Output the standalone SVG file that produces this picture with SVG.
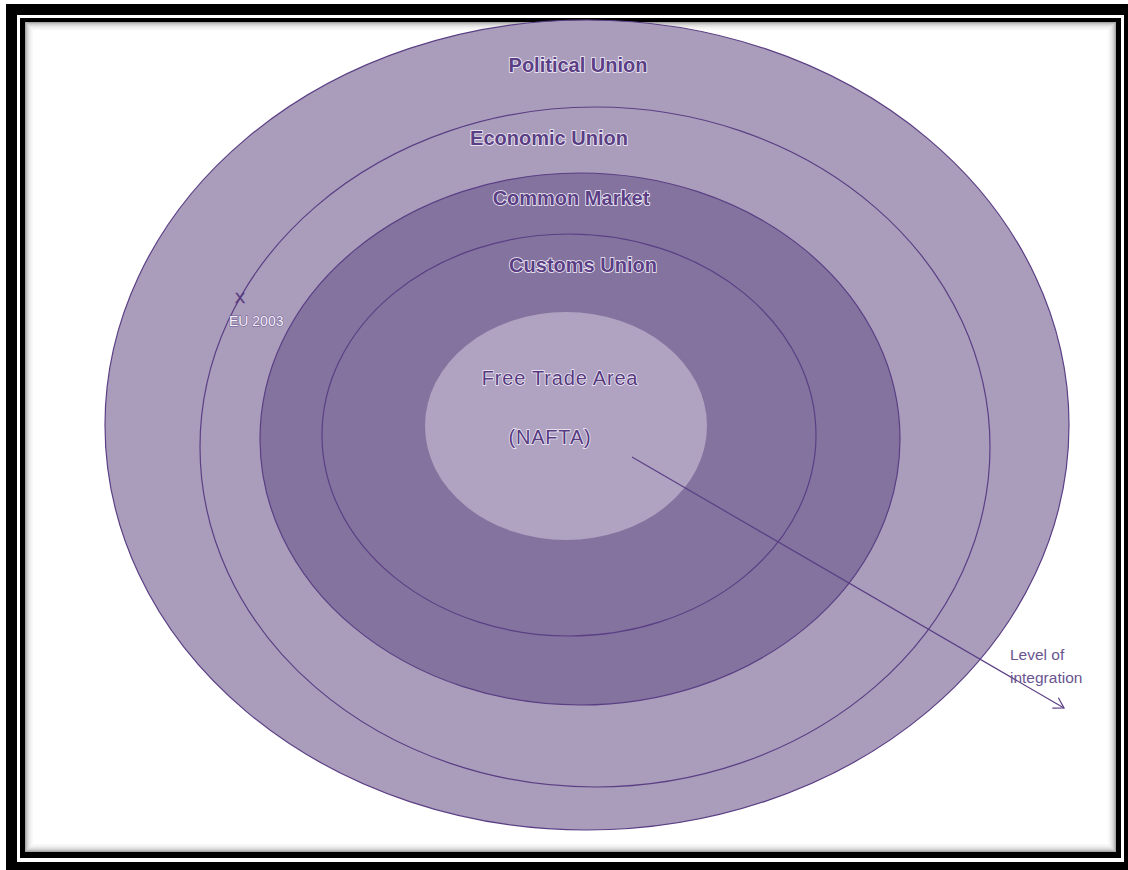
<svg xmlns="http://www.w3.org/2000/svg" width="1128" height="870" viewBox="0 0 1128 870">
<style>
.ring{stroke:#5b3f85;stroke-width:1.2}
.lbl{font-family:"Liberation Sans",Arial,sans-serif;font-weight:bold;font-size:20px;fill:#5b3f85;stroke:#f2eef8;stroke-width:1.6;paint-order:stroke}
.lbl2{font-family:"Liberation Sans",Arial,sans-serif;font-size:20px;letter-spacing:0.8px;fill:#56397f;stroke:#f2eef8;stroke-width:1.4;paint-order:stroke}
.sm{font-family:"Liberation Sans",Arial,sans-serif;font-size:15.5px;fill:#6a5590}
.sh{fill:none;stroke:#000}
</style>
<defs>
<marker id="arr" markerWidth="14" markerHeight="14" refX="12" refY="7" orient="auto" markerUnits="userSpaceOnUse">
<path d="M2,1 L12,7 L2,13" fill="none" stroke="#5b3f85" stroke-width="1.2"/>
</marker>
</defs>
<rect width="1128" height="870" fill="#ffffff"/>
<g id="frame">
<rect x="6" y="4" width="1122" height="866" fill="#000"/>
<rect x="17" y="15" width="1107" height="847" fill="#fff"/>
<rect x="20" y="18" width="1101" height="840" fill="#000"/>
<rect x="25" y="22" width="1091" height="830" fill="#fff"/>
<rect class="sh" x="25.5" y="22.5" width="1090" height="829" stroke-opacity="0.35"/>
<rect class="sh" x="26.5" y="23.5" width="1088" height="827" stroke-opacity="0.25"/>
<rect class="sh" x="27.5" y="24.5" width="1086" height="825" stroke-opacity="0.18"/>
<rect class="sh" x="28.5" y="25.5" width="1084" height="823" stroke-opacity="0.13"/>
<rect class="sh" x="29.5" y="26.5" width="1082" height="821" stroke-opacity="0.09"/>
<rect class="sh" x="30.5" y="27.5" width="1080" height="819" stroke-opacity="0.06"/>
<rect class="sh" x="31.5" y="28.5" width="1078" height="817" stroke-opacity="0.04"/>
<rect class="sh" x="32.5" y="29.5" width="1076" height="815" stroke-opacity="0.025"/>
</g>
<g id="political-union">
<ellipse class="ring" cx="587" cy="425" rx="482" ry="405" fill="#aa9dbb"/>
<text class="lbl" x="578" y="72" text-anchor="middle">Political Union</text>
</g>
<g id="economic-union">
<ellipse class="ring" cx="595" cy="447" rx="395" ry="340" fill="#aa9dbb"/>
<text class="lbl" x="549" y="145" text-anchor="middle">Economic Union</text>
</g>
<g id="common-market">
<ellipse class="ring" cx="580" cy="439" rx="320" ry="266" fill="#84739e"/>
<text class="lbl" x="571" y="205" text-anchor="middle">Common Market</text>
</g>
<g id="customs-union">
<ellipse class="ring" cx="569" cy="435" rx="247" ry="201" fill="#84739e"/>
<text class="lbl" x="583" y="272" text-anchor="middle">Customs Union</text>
</g>
<g id="free-trade-area">
<ellipse cx="566" cy="426" rx="141" ry="114" fill="#b0a3c2"/>
<text class="lbl2" x="560" y="385" text-anchor="middle">Free Trade Area</text>
<text class="lbl2" x="550" y="444" text-anchor="middle">(NAFTA)</text>
</g>
<g id="eu-2003">
<text x="240" y="303" text-anchor="middle" font-family="'Liberation Sans',Arial,sans-serif" font-size="15" fill="#56397f" stroke="#56397f" stroke-width="0.4">X</text>
<text x="229" y="326" font-family="'Liberation Sans',Arial,sans-serif" font-size="14" fill="#f6f3fa" stroke="#6a5590" stroke-width="1" paint-order="stroke">EU 2003</text>
</g>
<g id="connectors">
<line x1="632" y1="457" x2="1064" y2="708" stroke="#5b3f85" stroke-width="1.2" marker-end="url(#arr)"/>
</g>
<g id="level-label">
<text class="sm" x="1010" y="660">Level of</text>
<text class="sm" x="1010" y="683">integration</text>
</g>
</svg>
